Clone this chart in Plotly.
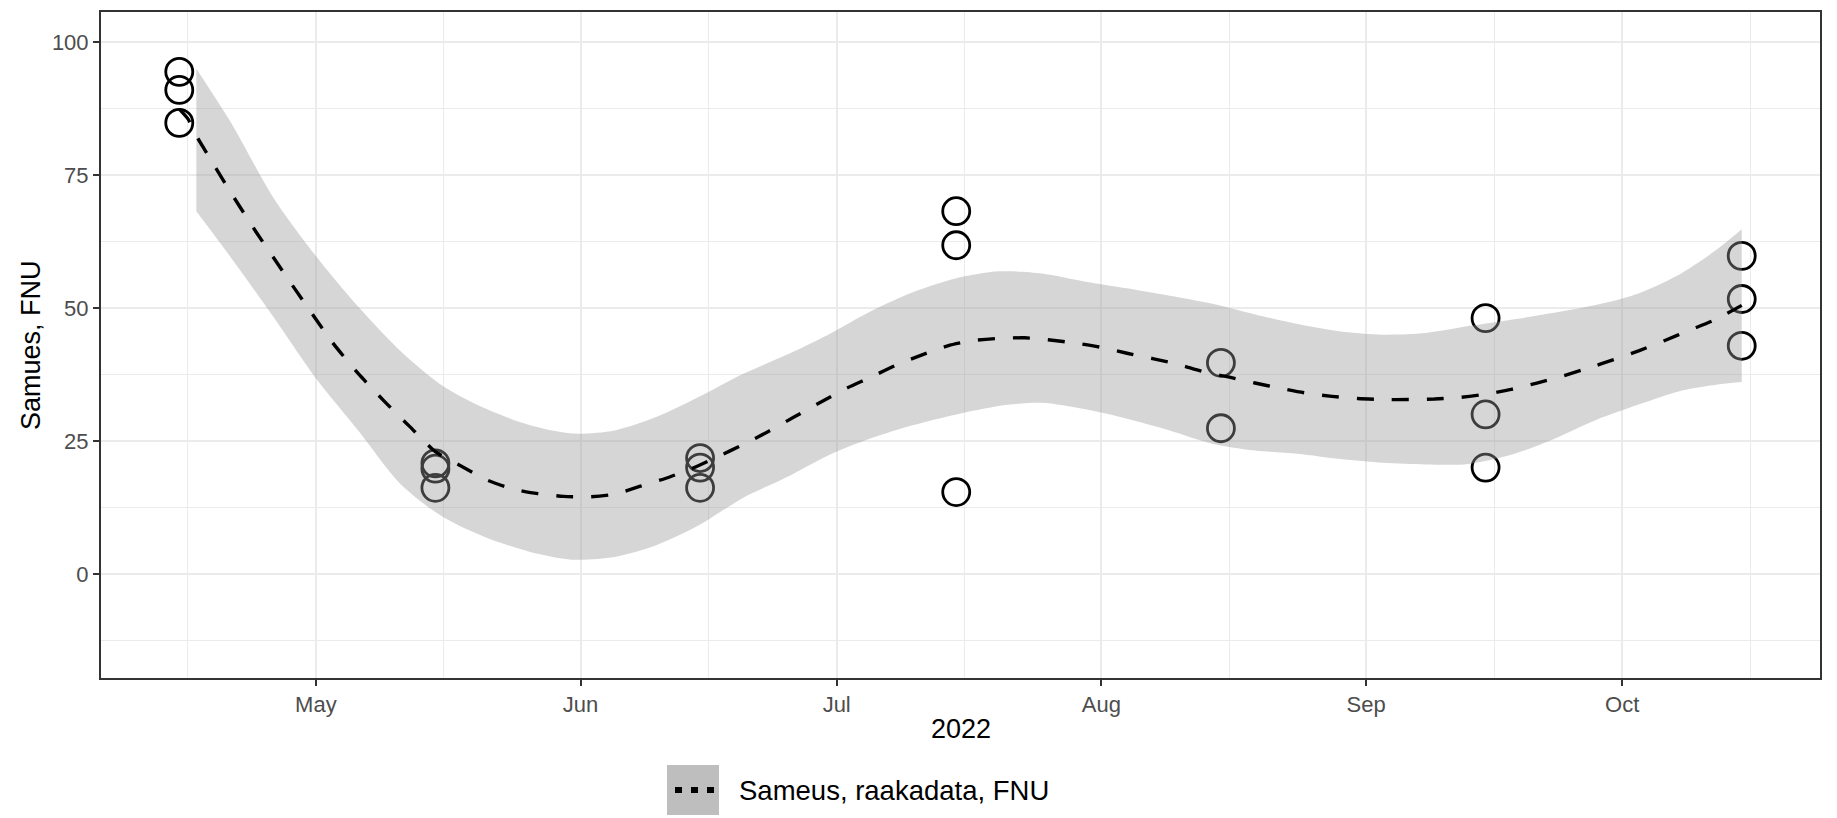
import plotly.graph_objects as go

# ---------------- data ----------------
point_dates = ["2022-04-15"] * 3 + ["2022-05-15"] * 3 + ["2022-06-15"] * 3 + \
              ["2022-07-15"] * 3 + ["2022-08-15"] * 2 + ["2022-09-15"] * 3 + ["2022-10-15"] * 3
point_values = [94.4, 91.0, 84.8,
                20.8, 19.8, 16.2,
                21.8, 20.0, 16.2,
                68.2, 61.8, 15.4,
                39.7, 27.4,
                48.1, 30.0, 20.0,
                59.8, 51.7, 42.9]

line_dates = ["2022-04-15", "2022-04-16", "2022-04-17", "2022-04-18", "2022-04-21", "2022-04-24",
              "2022-04-27", "2022-04-30", "2022-05-03", "2022-05-06", "2022-05-09", "2022-05-12",
              "2022-05-15", "2022-05-18", "2022-05-21", "2022-05-24", "2022-05-27", "2022-05-30",
              "2022-06-02", "2022-06-05", "2022-06-08", "2022-06-11", "2022-06-14", "2022-06-17",
              "2022-06-20", "2022-06-23", "2022-06-26", "2022-06-29", "2022-07-02", "2022-07-05",
              "2022-07-08", "2022-07-11", "2022-07-14", "2022-07-17", "2022-07-20", "2022-07-23",
              "2022-07-26", "2022-07-29", "2022-08-01", "2022-08-04", "2022-08-07", "2022-08-10",
              "2022-08-13", "2022-08-16", "2022-08-19", "2022-08-22", "2022-08-25", "2022-08-28",
              "2022-08-31", "2022-09-03", "2022-09-06", "2022-09-09", "2022-09-12", "2022-09-15",
              "2022-09-18", "2022-09-21", "2022-09-24", "2022-09-27", "2022-09-30", "2022-10-03",
              "2022-10-06", "2022-10-09", "2022-10-12", "2022-10-15"]
line_values = [87.4, 85.6, 82.4, 79.7, 71.8, 64.3,
               57.2, 50.2, 43.4, 37.6, 32.5, 27.7,
               23.0, 20.3, 17.7, 16.0, 15.1, 14.6,
               14.5, 15.0, 16.5, 18.0, 19.8, 22.0,
               24.3, 26.8, 29.5, 32.2, 34.8, 37.0,
               39.3, 41.2, 42.9, 43.9, 44.3, 44.4,
               44.0, 43.4, 42.6, 41.5, 40.5, 39.4,
               38.0, 37.0, 35.9, 34.9, 34.0, 33.4,
               33.0, 32.8, 32.8, 32.9, 33.2, 33.8,
               34.7, 35.9, 37.2, 38.7, 40.3, 42.0,
               43.9, 45.9, 47.9, 50.5]

band_dates = ["2022-04-17", "2022-04-21", "2022-04-26", "2022-05-01", "2022-05-06", "2022-05-11",
              "2022-05-16", "2022-05-21", "2022-05-26", "2022-05-31", "2022-06-05", "2022-06-10",
              "2022-06-15", "2022-06-20", "2022-06-25", "2022-06-30", "2022-07-05", "2022-07-10",
              "2022-07-15", "2022-07-20", "2022-07-25", "2022-07-30", "2022-08-04", "2022-08-09",
              "2022-08-14", "2022-08-19", "2022-08-24", "2022-08-29", "2022-09-03", "2022-09-08",
              "2022-09-13", "2022-09-18", "2022-09-23", "2022-09-28", "2022-10-03", "2022-10-08",
              "2022-10-12", "2022-10-15"]
band_upper = [95.0, 85.0, 70.8, 59.8, 50.2, 41.8,
              35.2, 31.0, 28.0, 26.4, 27.0, 29.6,
              33.4, 37.6, 41.1, 45.0, 49.4, 53.0,
              55.6, 56.9, 56.5, 55.0, 53.7, 52.3,
              50.8, 48.8, 47.0, 45.6, 45.0, 45.3,
              46.6, 47.8, 49.1, 50.6, 52.8, 56.6,
              60.9, 64.8]
band_lower = [68.2, 59.6, 48.4, 36.8, 26.9, 16.8,
              10.6, 6.8, 4.2, 2.7, 3.2, 5.5,
              9.3, 14.3, 18.1, 22.3, 25.5, 28.0,
              30.0, 31.6, 32.2, 31.0, 29.2, 27.0,
              24.5, 23.2, 22.6, 21.6, 20.9, 20.6,
              20.7, 22.4, 25.4, 29.0, 31.9, 34.5,
              35.6, 36.1]

y_ticks = [0, 25, 50, 75, 100]
x_title = "2022"
y_title = "Samues, FNU"
legend_label = "Sameus, raakadata, FNU"

# ---------------- layout constants (px) ----------------
W, H = 1837, 818
L, R, T, B = 101, 17, 12, 140
PW, PH = W - L - R, H - T - B
FONT = "Liberation Sans, Arial, sans-serif"


def px_x(px):
    return (px - L) / PW


def px_y(py):
    return (H - B - py) / PH


fig = go.Figure()

# points (drawn first, band is drawn over them)
fig.add_trace(go.Scatter(
    x=point_dates, y=point_values, mode="markers",
    marker=dict(symbol="circle", size=27, color="rgba(0,0,0,0)",
                line=dict(color="black", width=2.8)),
    showlegend=False, hoverinfo="x+y"))

# confidence band: upper edge, then lower edge filled to it
fig.add_trace(go.Scatter(
    x=band_dates, y=band_upper, mode="lines",
    line=dict(width=0, color="rgba(0,0,0,0)", shape="spline", smoothing=0.8),
    showlegend=False, hoverinfo="skip"))
fig.add_trace(go.Scatter(
    x=band_dates, y=band_lower, mode="lines", fill="tonexty",
    fillcolor="rgba(153,153,153,0.4)",
    line=dict(width=0, color="rgba(0,0,0,0)", shape="spline", smoothing=0.8),
    showlegend=False, hoverinfo="skip"))

# smoothed line
fig.add_trace(go.Scatter(
    x=line_dates, y=line_values, mode="lines",
    line=dict(color="black", width=3.4, dash="17px,18px", shape="spline", smoothing=0.6),
    showlegend=False, name=legend_label))

axis_common = dict(
    showline=True, linecolor="#333333", linewidth=2, mirror=True,
    ticks="outside", ticklen=6, tickwidth=2, tickcolor="#333333",
    tickfont=dict(family=FONT, size=22, color="#4d4d4d"),
    showgrid=True, gridcolor="#ebebeb", gridwidth=2.4, zeroline=False,
)

fig.update_xaxes(
    type="date", range=["2022-04-05 20:00", "2022-10-24 04:00"],
    dtick="M1", tick0="2022-05-01", tickformat="%b",
    minor=dict(dtick="M1", tick0="2022-04-16", showgrid=True,
               gridcolor="#ebebeb", gridwidth=1.4, ticks=""),
    **axis_common)
fig.update_yaxes(
    range=[-19.55, 105.65], tickvals=y_ticks, ticktext=[str(v) for v in y_ticks],
    minor=dict(tickvals=[-12.5, 12.5, 37.5, 62.5, 87.5], showgrid=True,
               gridcolor="#ebebeb", gridwidth=1.4, ticks=""),
    **axis_common)

annotations = [
    dict(text=x_title, xref="paper", yref="paper", x=0.5, y=px_y(729),
         xanchor="center", yanchor="middle", showarrow=False,
         font=dict(family=FONT, size=27, color="black")),
    dict(text=y_title, xref="paper", yref="paper", x=px_x(31), y=0.5,
         xanchor="center", yanchor="middle", textangle=-90, showarrow=False,
         font=dict(family=FONT, size=27, color="black")),
    dict(text=legend_label, xref="paper", yref="paper", x=px_x(737), y=px_y(790),
         xanchor="left", yanchor="middle", showarrow=False,
         font=dict(family=FONT, size=27.5, color="black")),
]

shapes = [
    dict(type="rect", xref="paper", yref="paper",
         x0=px_x(667), x1=px_x(719), y0=px_y(815), y1=px_y(765),
         fillcolor="#bebebe", line=dict(width=0), layer="above"),
    dict(type="line", xref="paper", yref="paper",
         x0=px_x(675), x1=px_x(714), y0=px_y(790), y1=px_y(790),
         line=dict(color="black", width=6, dash="7px,9px"), layer="above"),
]

fig.update_layout(
    width=W, height=H,
    margin=dict(l=L, r=R, t=T, b=B, autoexpand=False),
    paper_bgcolor="white", plot_bgcolor="white",
    font=dict(family=FONT),
    showlegend=False,
    annotations=annotations, shapes=shapes,
)

fig.write_html("out.html", include_plotlyjs=True, config={"displayModeBar": False},
               post_script="document.body.style.margin='0';document.body.style.overflow='hidden';")
